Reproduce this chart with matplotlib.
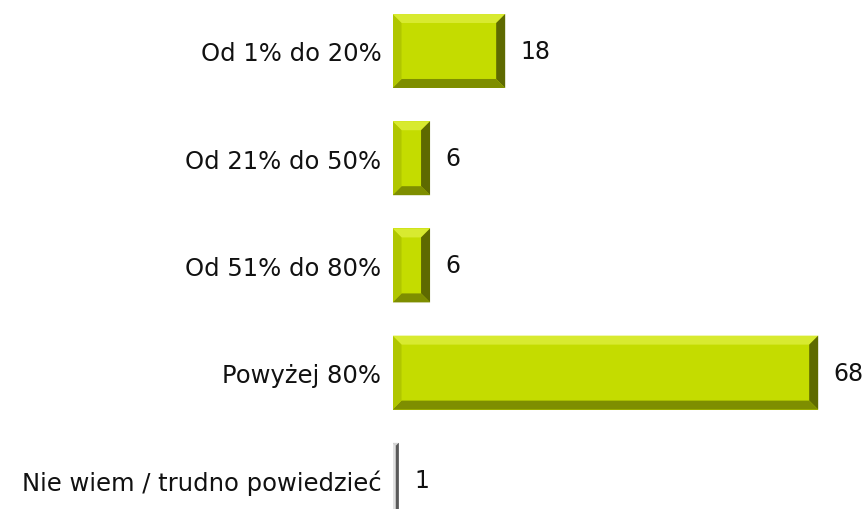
import matplotlib.pyplot as plt
from matplotlib.patches import Polygon

categories = ["Od 1% do 20%", "Od 21% do 50%", "Od 51% do 80%", "Powyżej 80%", "Nie wiem / trudno powiedzieć"]
values = [18, 6, 6, 68, 1]
colors = ["#c4dc00", "#c4dc00", "#c4dc00", "#c4dc00", "#a6a6a6"]

# bevel shades: top, right, bottom, left
bevel_green = ["#d8ea30", "#5e6a00", "#7e8e00", "#b0c600"]
bevel_grey = ["#d6d6d6", "#5a5a5a", "#7a7a7a", "#e2e2e2"]

W, H = 864, 510
fig = plt.figure(figsize=(W / 100, H / 100), dpi=100)
left_px = 392.5
px_per_unit = 6.26
ax = fig.add_axes([left_px / W, 0, 1 - left_px / W, 1])

pos = list(range(len(categories)))
bars = ax.barh(pos, values, height=0.69, color=colors, edgecolor="none")
ax.set_xlim(0, (W - left_px) / px_per_unit)
ax.set_ylim(4.272, -0.485)

# pixel -> data scale
py_per_unit = 107.2
bevel_px = 9.0

for i, b in enumerate(bars):
    x0, y0 = b.get_x(), b.get_y()
    w, h = b.get_width(), b.get_height()
    wpx, hpx = w * px_per_unit, h * py_per_unit
    bp = min(bevel_px, wpx / 2, hpx / 2)
    bx, by = bp / px_per_unit, bp / py_per_unit
    x1, y1 = x0 + w, y0 + h  # y0 is visual top (inverted axis)
    shades = bevel_grey if i == 4 else bevel_green
    polys = [
        [(x0, y0), (x1, y0), (x1 - bx, y0 + by), (x0 + bx, y0 + by)],
        [(x1, y0), (x1, y1), (x1 - bx, y1 - by), (x1 - bx, y0 + by)],
        [(x1, y1), (x0, y1), (x0 + bx, y1 - by), (x1 - bx, y1 - by)],
        [(x0, y1), (x0, y0), (x0 + bx, y0 + by), (x0 + bx, y1 - by)],
    ]
    for p, c in zip(polys, shades):
        ax.add_patch(Polygon(p, closed=True, facecolor=c, edgecolor="none"))
    ax.annotate(str(values[i]), (x1, pos[i]), xytext=(11, 0), textcoords="offset points",
                va="center", ha="left", fontsize=17, color="#111111")

ax.set_yticks(pos)
ax.set_yticklabels(categories, fontsize=17.5, color="#111111")
ax.tick_params(axis="y", length=0, pad=8)
ax.set_xticks([])
for s in ax.spines.values():
    s.set_visible(False)

fig.savefig("out.png", dpi=100)
